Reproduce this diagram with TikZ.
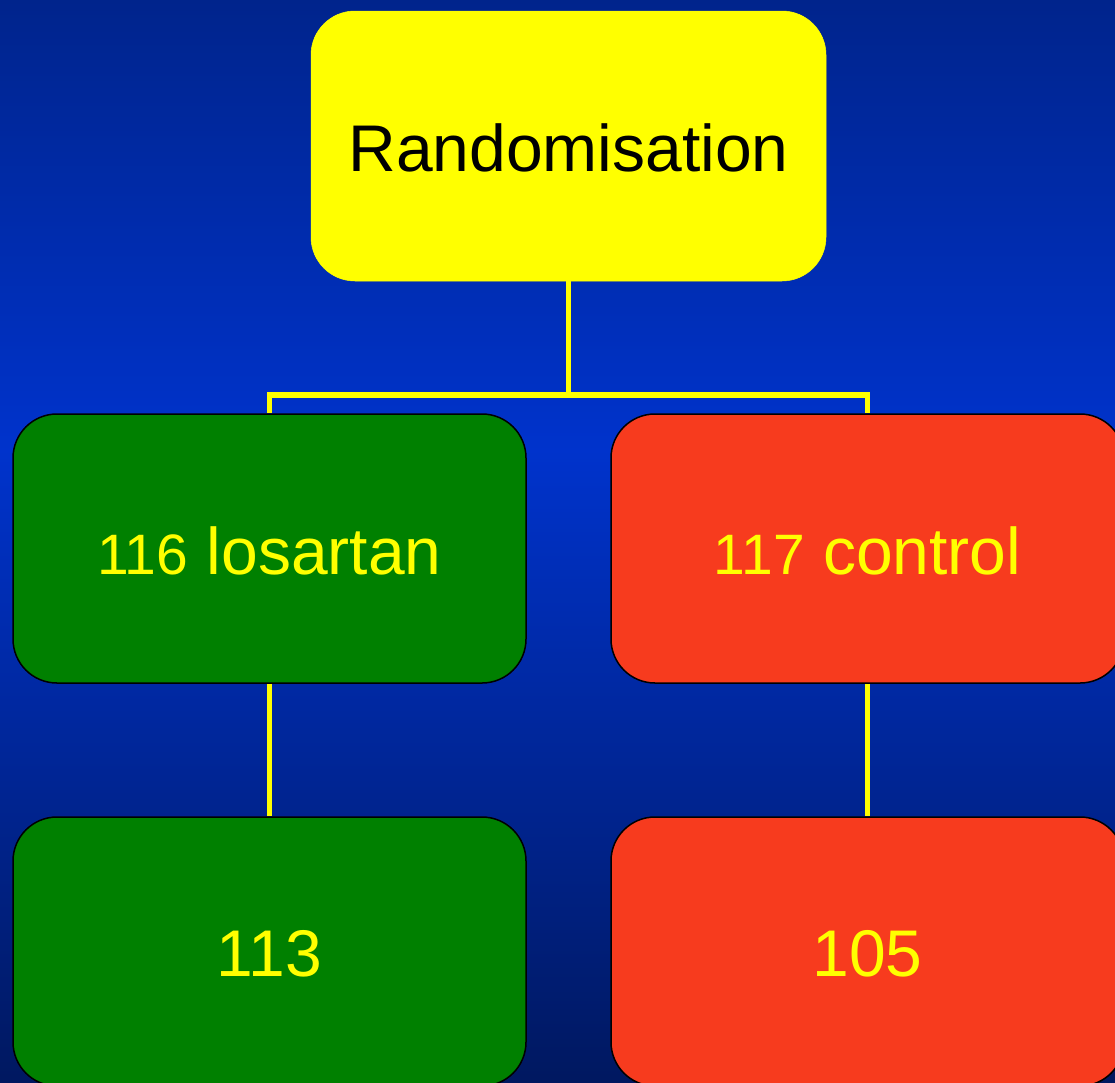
\documentclass[tikz,border=0pt]{standalone}
\usepackage{fontspec}
\setmainfont{Liberation Sans}
\definecolor{bgtop}{RGB}{0,36,140}
\definecolor{bgmid}{RGB}{0,51,204}
\definecolor{bgbot}{RGB}{0,24,96}
\definecolor{boxyellow}{RGB}{255,255,0}
\definecolor{boxgreen}{RGB}{0,128,0}
\definecolor{boxred}{RGB}{247,59,30}
\tikzset{
  card/.style={rectangle, rounded corners=44pt, minimum width=513pt, minimum height=269pt, inner sep=0pt, draw=black, line width=1.5pt, text=boxyellow, font=\fontsize{66}{70}\selectfont},
  topcard/.style={card, draw=boxyellow, fill=boxyellow, text=black, minimum width=515pt, minimum height=270pt, line width=0.5pt},
  greencard/.style={card, fill=boxgreen},
  redcard/.style={card, fill=boxred},
  link/.style={draw=boxyellow, line width=5.5pt}
}
\newcommand{\smallnum}[1]{{\fontsize{57}{60}\selectfont #1}}
\newcommand{\lowered}[1]{\raisebox{-2pt}[\height][\depth]{#1}}
\begin{document}
\begin{tikzpicture}[x=1pt,y=-1pt]
\useasboundingbox (0,0) rectangle (1115,1082);
\shade[top color=bgtop, bottom color=bgmid] (0,0) rectangle (1115,450.5);
\shade[top color=bgmid, bottom color=bgbot] (0,450) rectangle (1115,1082);
\begin{scope}
\clip (0,0) rectangle (1115,1082);
\coordinate (junc) at (568.5,395);
\node[topcard] (rand) at (568.5,146) {\lowered{Randomisation}};
\node[greencard] (los) at (269.5,548.5) {\lowered{\smallnum{116} losartan}};
\node[redcard] (ctl) at (867.5,548.5) {\lowered{\smallnum{117} control}};
\node[greencard] (los2) at (269.5,951.5) {\lowered{113}};
\node[redcard] (ctl2) at (867.5,951.5) {\lowered{105}};
\draw[link] (rand.south) -- (junc);
\draw[link] (junc) -| (los.north);
\draw[link] (junc) -| (ctl.north);
\draw[link] (los.south) -- (los2.north);
\draw[link] (ctl.south) -- (ctl2.north);
\end{scope}
\end{tikzpicture}
\end{document}
